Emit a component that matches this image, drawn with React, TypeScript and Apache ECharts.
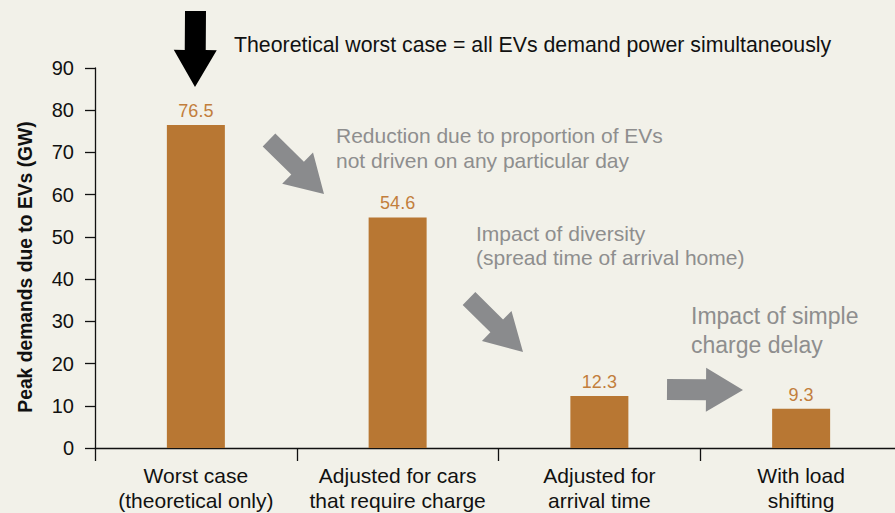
import React, { useEffect, useRef } from "react";
import * as echarts from "echarts";

const categories = [
  "Worst case\n(theoretical only)",
  "Adjusted for cars\nthat require charge",
  "Adjusted for\narrival time",
  "With load\nshifting",
];
const peakDemand = [76.5, 54.6, 12.3, 9.3];
const yTicks = { min: 0, max: 90, interval: 10 };
const yAxisName = "Peak demands due to EVs (GW)";
const titleText = "Theoretical worst case = all EVs demand power simultaneously";
const notes = [
  "Reduction due to proportion of EVs\nnot driven on any particular day",
  "Impact of diversity\n(spread time of arrival home)",
  "Impact of simple\ncharge delay",
];

const FONT = "'Liberation Sans', Arial, Helvetica, sans-serif";
const BG = "#F2F1E9";
const BAR = "#B87733";
const LABEL = "#C27E3C";
const GREY = "#8A8B8D";
const GREY_TEXT = "#8E8E8E";

type Pt = [number, number];
function arrow(tail: Pt, tip: Pt, sw: number, hw: number, hl: number): Pt[] {
  const dx = tip[0] - tail[0];
  const dy = tip[1] - tail[1];
  const len = Math.hypot(dx, dy);
  const ux = dx / len, uy = dy / len;
  const nx = -uy, ny = ux;
  const bx = tip[0] - ux * hl, by = tip[1] - uy * hl;
  return [
    [tail[0] + (nx * sw) / 2, tail[1] + (ny * sw) / 2],
    [bx + (nx * sw) / 2, by + (ny * sw) / 2],
    [bx + (nx * hw) / 2, by + (ny * hw) / 2],
    [tip[0], tip[1]],
    [bx - (nx * hw) / 2, by - (ny * hw) / 2],
    [bx - (nx * sw) / 2, by - (ny * sw) / 2],
    [tail[0] - (nx * sw) / 2, tail[1] - (ny * sw) / 2],
  ];
}

export default function App() {
  const ref = useRef<HTMLDivElement>(null);
  useEffect(() => {
    if (!ref.current) return;
    const chart = echarts.init(ref.current, null, { renderer: "svg" });
    chart.setOption({
      animation: false,
      backgroundColor: BG,
      textStyle: { fontFamily: FONT },
      grid: { left: 95, top: 68, bottom: 64, right: 0, containLabel: false },
      xAxis: {
        type: "category",
        data: categories,
        axisLine: { lineStyle: { color: "#111", width: 1.3 } },
        axisTick: { show: true, length: 13, lineStyle: { color: "#111", width: 1.3 } },
        axisLabel: {
          color: "#111",
          fontSize: 21,
          fontFamily: FONT,
          lineHeight: 25,
          margin: 15,
          interval: 0,
        },
      },
      yAxis: {
        type: "value",
        min: yTicks.min,
        max: yTicks.max,
        interval: yTicks.interval,
        name: yAxisName,
        nameLocation: "middle",
        nameGap: 60,
        nameTextStyle: {
          fontSize: 19.3,
          fontWeight: "bold",
          color: "#111",
          fontFamily: FONT,
          padding: [0, 18, 0, 0],
        },
        axisLine: { show: true, lineStyle: { color: "#111", width: 1.3 } },
        axisTick: { show: true, length: 10, lineStyle: { color: "#111", width: 1.3 } },
        axisLabel: { color: "#111", fontSize: 20, margin: 21, fontFamily: FONT },
        splitLine: { show: false },
      },
      series: [
        {
          type: "bar",
          data: peakDemand,
          barWidth: 58,
          itemStyle: { color: BAR },
          label: {
            show: true,
            position: "top",
            distance: 5,
            color: LABEL,
            fontSize: 18,
            fontFamily: FONT,
          },
        },
      ],
      graphic: [
        { type: "polygon", shape: { points: arrow([195.5, 11], [195, 87], 21, 43, 37) }, style: { fill: "#000" } },
        { type: "polygon", shape: { points: arrow([269, 140], [324, 194], 18, 44, 37) }, style: { fill: GREY } },
        { type: "polygon", shape: { points: arrow([469, 298.5], [523, 352], 18, 42, 37) }, style: { fill: GREY } },
        { type: "polygon", shape: { points: arrow([667, 389.5], [743, 390], 21, 44, 37) }, style: { fill: GREY } },
        {
          type: "text",
          x: 234,
          y: 45,
          style: { text: titleText, fill: "#111", font: `21.3px ${FONT}`, verticalAlign: "middle" },
        },
        {
          type: "text",
          x: 336,
          y: 122.5,
          style: { text: notes[0], fill: GREY_TEXT, font: `21px ${FONT}`, lineHeight: 25, verticalAlign: "top" },
        },
        {
          type: "text",
          x: 476,
          y: 221,
          style: { text: notes[1], fill: GREY_TEXT, font: `21px ${FONT}`, lineHeight: 24, verticalAlign: "top" },
        },
        {
          type: "text",
          x: 691,
          y: 301.5,
          style: { text: notes[2], fill: GREY_TEXT, font: `23px ${FONT}`, lineHeight: 29, verticalAlign: "top" },
        },
      ],
    });
    return () => chart.dispose();
  }, []);
  return (
    <div style={{ position: "fixed", left: 0, top: 0, width: 895, height: 513, overflow: "hidden" }}>
      <div ref={ref} style={{ width: 902, height: 513 }} />
    </div>
  );
}
